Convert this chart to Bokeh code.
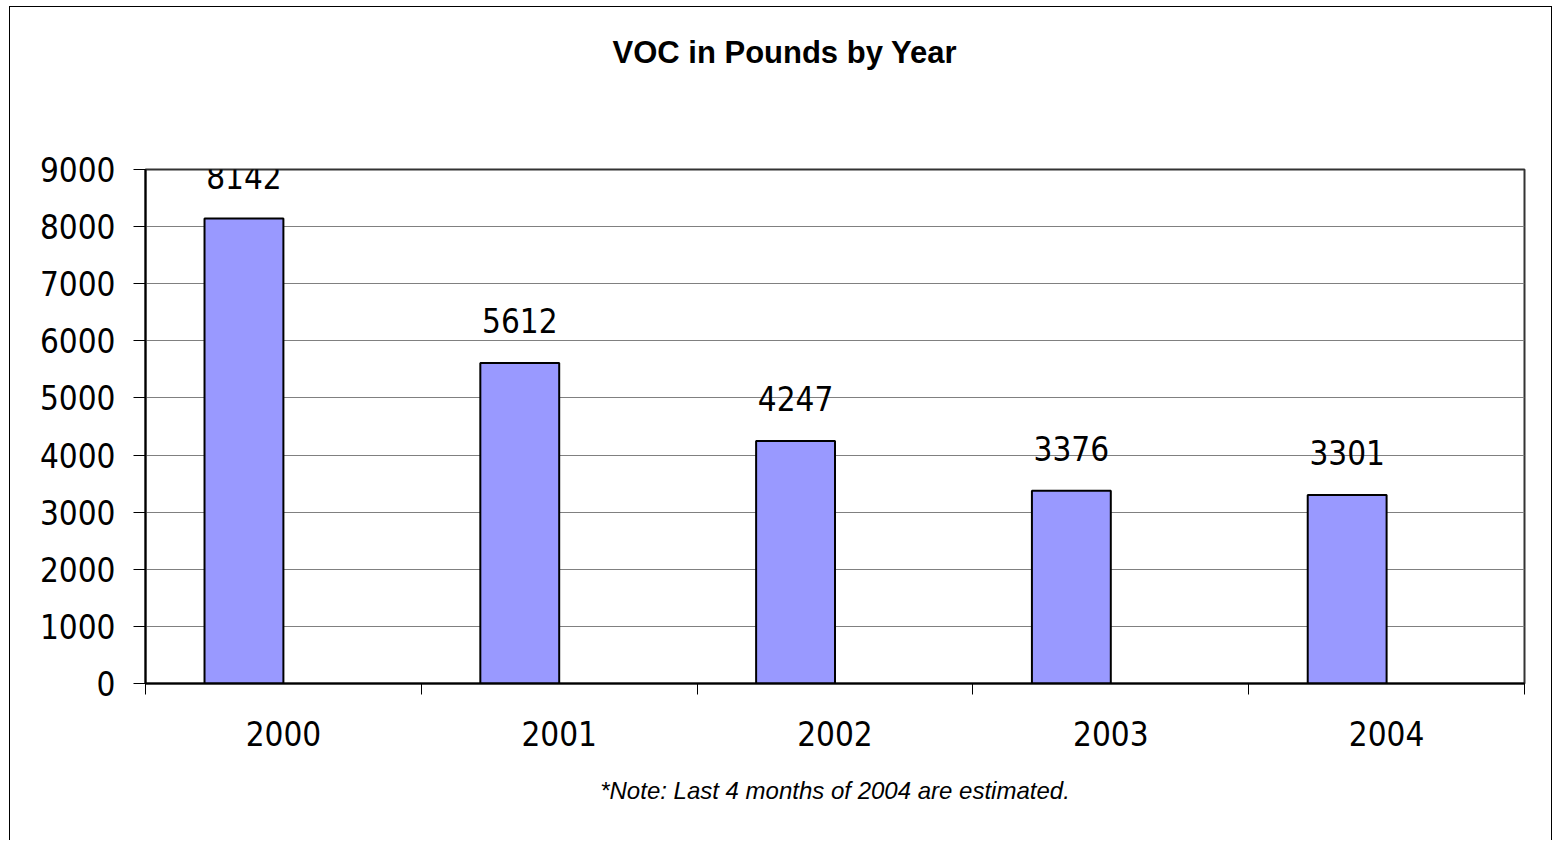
from bokeh.plotting import figure
from bokeh.models import Range1d, FixedTicker, ColumnDataSource, Title
from bokeh.core.properties import value
from bokeh.embed import file_html
from bokeh.resources import INLINE

years = ["2000", "2001", "2002", "2003", "2004"]
voc = [8142, 5612, 4247, 3376, 3301]
y_ticks = [0, 1000, 2000, 3000, 4000, 5000, 6000, 7000, 8000, 9000]
title_text = "VOC in Pounds by Year"
note_text = "*Note: Last 4 months of 2004 are estimated."

NARROW = "Liberation Sans Narrow, DejaVu Sans Condensed, Liberation Sans"

idx = list(range(len(years)))
bar_w = 0.286
xs = [i + 0.5 - bar_w / 2 for i in idx]
src = ColumnDataSource(dict(x=xs, top=voc, label=[str(v) for v in voc]))

p = figure(width=1543, height=834, output_backend="svg", toolbar_location=None,
           x_range=Range1d(0, len(years)), y_range=Range1d(0, 9000),
           min_border_left=135, min_border_right=29, min_border_top=162,
           min_border_bottom=158)
p.styles = {"border-top": "1px solid #000", "border-left": "1px solid #000",
            "border-right": "1px solid #000", "margin-left": "9px",
            "margin-top": "6px"}

# spacer between frame and title (closest panel above the frame)
p.add_layout(Title(text=" ", text_font_size="1px", standoff=90), "above")

p.title = Title(text=title_text, align="left", vertical_align="top",
                text_font="Liberation Sans", text_font_size="31px",
                text_font_style="bold", offset=467, standoff=10,
                text_color="#000000")

p.outline_line_color = "#333333"
p.outline_line_width = 2

p.vbar(x="x", top="top", width=bar_w, bottom=0, source=src,
       fill_color="#9999FF", line_color="#000000", line_width=2)
p.text(x="x", y="top", text="label", source=src, text_align="center",
       text_baseline="alphabetic", y_offset=-42, text_font=value(NARROW),
       text_font_size="33px", text_color="#000000")

# grid
p.xgrid.grid_line_color = None
p.ygrid.ticker = FixedTicker(ticks=y_ticks)
p.ygrid.grid_line_color = "#808080"
p.ygrid.grid_line_width = 1

# y axis
p.yaxis.ticker = FixedTicker(ticks=y_ticks)
p.yaxis.axis_line_color = "#000000"
p.yaxis.axis_line_width = 2
p.yaxis.major_tick_out = 12
p.yaxis.major_tick_in = 0
p.yaxis.major_tick_line_color = "#000000"
p.yaxis.minor_tick_line_color = None
p.yaxis.major_label_text_font = NARROW
p.yaxis.major_label_text_font_size = "33px"
p.yaxis.major_label_text_color = "#000000"
p.yaxis.major_label_standoff = 18

# x axis: labels at category centres, tick marks at boundaries
p.xaxis.ticker = FixedTicker(ticks=[i + 0.5 for i in idx],
                             minor_ticks=list(range(len(years) + 1)))
p.xaxis.major_label_overrides = {i + 0.5: y for i, y in zip(idx, years)}
p.xaxis.major_tick_line_color = None
p.xaxis.minor_tick_line_color = "#000000"
p.xaxis.minor_tick_out = 11
p.xaxis.minor_tick_in = 0
p.xaxis.axis_line_color = "#000000"
p.xaxis.axis_line_width = 2
p.xaxis.major_label_text_font = NARROW
p.xaxis.major_label_text_font_size = "33px"
p.xaxis.major_label_text_color = "#000000"
p.xaxis.major_label_standoff = 26
p.xaxis.axis_label = note_text
p.xaxis.axis_label_text_font = "Liberation Sans"
p.xaxis.axis_label_text_font_style = "italic"
p.xaxis.axis_label_text_font_size = "24px"
p.xaxis.axis_label_text_color = "#000000"
p.xaxis.axis_label_standoff = 28

open("out.html", "w").write(file_html(p, INLINE))
